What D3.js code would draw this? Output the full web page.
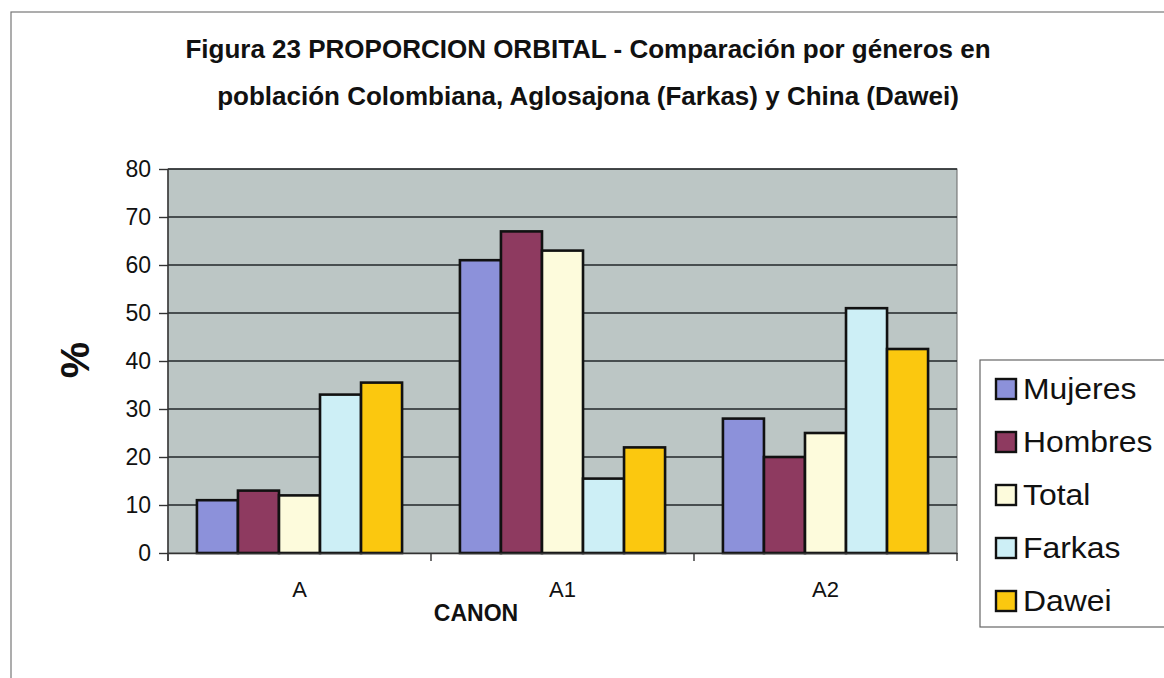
<!DOCTYPE html>
<html lang="es">
<head>
<meta charset="UTF-8">
<title>Proporcion orbital</title>
<script src="https://cdn.jsdelivr.net/npm/d3@7"></script>
<style>
    body { margin: 0; background: #fff; }
    text { font-family: "Liberation Sans", Arial, sans-serif; fill: #111; }
</style>
</head>
<body>
<svg width="1164" height="678"></svg>
<script>
    // datos
    var categories = ["A", "A1", "A2"];
    var series = ["Mujeres", "Hombres", "Total", "Farkas", "Dawei"];
    var mujeres = [11, 61, 28];
    var hombres = [13, 67, 20];
    var total = [12, 63, 25];
    var farkas = [33, 15.5, 51];
    var dawei = [35.5, 22, 42.5];
    var yTicks = [0, 10, 20, 30, 40, 50, 60, 70, 80];
    var colors = ["#8c91da", "#8e3a60", "#fdfbdc", "#cdeff6", "#fbc80f"];

    var values = [mujeres, hombres, total, farkas, dawei];

    var svg = d3.select("svg");

    var plotLeft = 168, plotRight = 957, plotTop = 169, plotBottom = 553;

    // marco del grafico
    svg.append("rect")
        .attr("x", 11).attr("y", 12)
        .attr("width", 1300).attr("height", 800)
        .attr("fill", "none")
        .attr("stroke", "#777")
        .attr("stroke-width", 1.2);

    // titulo
    svg.append("text")
        .attr("x", 588).attr("y", 58)
        .attr("text-anchor", "middle")
        .style("font-weight", "bold")
        .style("font-size", "26px")
        .text("Figura 23 PROPORCION ORBITAL - Comparación por géneros en");
    svg.append("text")
        .attr("x", 588).attr("y", 105)
        .attr("text-anchor", "middle")
        .style("font-weight", "bold")
        .style("font-size", "26px")
        .text("población Colombiana, Aglosajona (Farkas) y China (Dawei)");

    var x = d3.scaleBand().domain(categories).range([plotLeft, plotRight]).padding(0);
    var bw = x.bandwidth();
    var gap = bw * 0.22;
    var x1 = d3.scaleBand().domain(series).range([gap / 2, bw - gap / 2]).padding(0);
    var y = d3.scaleLinear().domain([0, 80]).range([plotBottom, plotTop]);

    // fondo del area de trazado
    svg.append("rect")
        .attr("x", plotLeft).attr("y", plotTop)
        .attr("width", plotRight - plotLeft).attr("height", plotBottom - plotTop)
        .attr("fill", "#bcc6c5")
        .attr("stroke", "#666")
        .attr("stroke-width", 1);

    // lineas de division
    svg.append("g")
        .selectAll("line")
        .data(yTicks.slice(1))
        .enter()
        .append("line")
        .attr("x1", plotLeft).attr("x2", plotRight)
        .attr("y1", function(d) { return y(d); })
        .attr("y2", function(d) { return y(d); })
        .attr("stroke", "#222629")
        .attr("stroke-width", 1.7);

    // barras
    var groups = svg.append("g")
        .selectAll("g")
        .data(series)
        .enter()
        .append("g")
        .attr("fill", function(d, i) { return colors[i]; });

    groups.selectAll("rect")
        .data(function(s, i) {
            return categories.map(function(c, j) {
                return { cat: c, s: s, v: values[i][j] };
            });
        })
        .enter()
        .append("rect")
        .attr("x", function(d) { return x(d.cat) + x1(d.s); })
        .attr("y", function(d) { return y(d.v); })
        .attr("width", x1.bandwidth())
        .attr("height", function(d) { return y(0) - y(d.v); })
        .attr("stroke", "#111")
        .attr("stroke-width", 2.6);

    // eje y
    var yAxis = svg.append("g")
        .attr("transform", "translate(" + plotLeft + ",0)")
        .call(d3.axisLeft(y).tickValues(yTicks).tickSize(9).tickPadding(8));
    yAxis.selectAll("text").style("font-size", "23px").attr("fill", "#111");
    yAxis.selectAll("line").attr("stroke", "#333").attr("stroke-width", 1.4);
    yAxis.select(".domain").remove();
    svg.append("line")
        .attr("x1", plotLeft).attr("x2", plotLeft)
        .attr("y1", plotTop).attr("y2", plotBottom + 8)
        .attr("stroke", "#333").attr("stroke-width", 1.4);

    // eje x
    var xAxis = svg.append("g")
        .attr("transform", "translate(0," + plotBottom + ")")
        .call(d3.axisBottom(x).tickSize(0).tickPadding(28));
    xAxis.select(".domain").attr("stroke", "#333").attr("stroke-width", 1.6);
    xAxis.selectAll("text").style("font-size", "22px").attr("fill", "#111");
    svg.append("g")
        .selectAll("line")
        .data(categories.map(function(c) { return x(c); }).concat([plotRight]))
        .enter()
        .append("line")
        .attr("x1", function(d) { return d; })
        .attr("x2", function(d) { return d; })
        .attr("y1", plotBottom).attr("y2", plotBottom + 8)
        .attr("stroke", "#333").attr("stroke-width", 1.4);

    // titulos de ejes
    svg.append("text")
        .attr("x", 476).attr("y", 621)
        .attr("text-anchor", "middle")
        .style("font-weight", "bold")
        .style("font-size", "23px")
        .text("CANON");
    svg.append("text")
        .attr("transform", "translate(89,360) rotate(-90)")
        .attr("text-anchor", "middle")
        .style("font-weight", "bold")
        .style("font-size", "41px")
        .text("%");

    // leyenda
    var legend = svg.append("g");
    legend.append("rect")
        .attr("x", 980).attr("y", 360)
        .attr("width", 300).attr("height", 267)
        .attr("fill", "#fff")
        .attr("stroke", "#666")
        .attr("stroke-width", 1.2);
    var item = legend.selectAll("g")
        .data(series)
        .enter()
        .append("g")
        .attr("transform", function(d, i) { return "translate(996," + (389 + i * 53) + ")"; });
    item.append("rect")
        .attr("x", 0).attr("y", -10)
        .attr("width", 20).attr("height", 20)
        .attr("fill", function(d, i) { return colors[i]; })
        .attr("stroke", "#111")
        .attr("stroke-width", 2.4);
    item.append("text")
        .attr("transform", "translate(27,10) scale(1.1,1)")
        .style("font-size", "29px")
        .text(function(d) { return d; });
</script>
</body>
</html>
